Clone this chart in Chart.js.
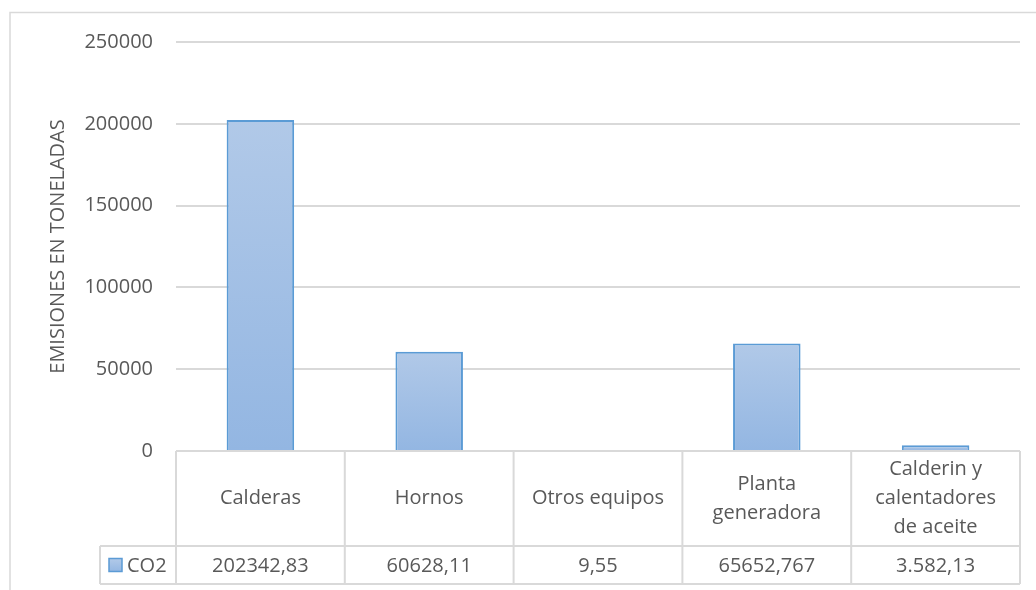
<!DOCTYPE html>
<html>
<head>
<meta charset="utf-8">
<script src="https://cdn.jsdelivr.net/npm/chart.js@4"></script>
<style>
  body { margin: 0; background: #fff; }
</style>
</head>
<body>
<canvas id="chart" width="1036" height="590"></canvas>
<script>
// datos
const categorias = ["Calderas", "Hornos", "Otros equipos", ["Planta", "generadora"], ["Calderin y", "calentadores", "de aceite"]];
const emisiones = [202342.83, 60628.11, 9.55, 65652.767, 3582.13];
const etiquetasTabla = ["202342,83", "60628,11", "9,55", "65652,767", "3.582,13"];
const serie = "CO2";
const yTicks = [0, 50000, 100000, 150000, 200000, 250000];

const gris = "#595959";
const lineaGris = "#d9d9d9";
const fuente = "'Open Sans', sans-serif";

function relleno(context) {
  const chart = context.chart;
  const y = chart.scales.y;
  if (!chart.chartArea || !y || context.raw === undefined) return "#a4c2e6";
  const top = y.getPixelForValue(context.raw);
  const base = y.getPixelForValue(0);
  if (!isFinite(top) || base - top < 1) return "#dde6ef";
  const g = chart.ctx.createLinearGradient(0, top, 0, base);
  g.addColorStop(0, "#b1c9e8");
  g.addColorStop(1, "#93b6e2");
  return g;
}

// borde exterior del grafico
const bordeGrafico = {
  id: "bordeGrafico",
  beforeDraw(chart) {
    const ctx = chart.ctx;
    ctx.save();
    ctx.strokeStyle = lineaGris;
    ctx.lineWidth = 1.5;
    ctx.strokeRect(10, 12.5, 2000, 2000);
    ctx.restore();
  },
};

// tabla de datos bajo el eje
const tablaDatos = {
  id: "tablaDatos",
  afterDraw(chart) {
    const { ctx, chartArea } = chart;
    const n = categorias.length;
    const w = (chartArea.right - chartArea.left) / n;
    const top = chartArea.bottom;
    const mid = top + 95;
    const bottom = mid + 38;
    const legendLeft = chartArea.left - 76;

    ctx.save();
    ctx.strokeStyle = lineaGris;
    ctx.lineWidth = 2;
    ctx.beginPath();
    ctx.moveTo(chartArea.left, top);
    ctx.lineTo(chartArea.right, top);
    ctx.moveTo(legendLeft, mid);
    ctx.lineTo(chartArea.right, mid);
    ctx.moveTo(legendLeft, bottom);
    ctx.lineTo(chartArea.right, bottom);
    for (let i = 0; i <= n; i++) {
      const x = chartArea.left + i * w;
      ctx.moveTo(x, top);
      ctx.lineTo(x, bottom);
    }
    ctx.moveTo(legendLeft, mid);
    ctx.lineTo(legendLeft, bottom);
    ctx.stroke();

    ctx.fillStyle = gris;
    ctx.font = "20px " + fuente;
    ctx.textAlign = "center";
    ctx.textBaseline = "middle";
    const lh = 29;
    categorias.forEach((cat, i) => {
      const lines = Array.isArray(cat) ? cat : [cat];
      const cx = chartArea.left + (i + 0.5) * w;
      const cy = (top + mid) / 2;
      lines.forEach((t, j) => {
        ctx.fillText(t, cx, cy + (j - (lines.length - 1) / 2) * lh);
      });
      ctx.fillText(etiquetasTabla[i], cx, (mid + bottom) / 2 + 1);
    });

    // leyenda
    const ly = (mid + bottom) / 2;
    const g = ctx.createLinearGradient(0, ly - 6, 0, ly + 7);
    g.addColorStop(0, "#b1c9e8");
    g.addColorStop(1, "#93b6e2");
    ctx.fillStyle = g;
    ctx.fillRect(109, ly - 6.5, 13, 13);
    ctx.strokeStyle = "#5b9bd5";
    ctx.lineWidth = 1.5;
    ctx.strokeRect(109, ly - 6.5, 13, 13);
    ctx.fillStyle = gris;
    ctx.textAlign = "left";
    ctx.fillText(serie, 127, ly + 1);
    ctx.restore();
  },
};

new Chart(document.getElementById("chart"), {
  type: "bar",
  data: {
    labels: categorias,
    datasets: [
      {
        label: serie,
        data: emisiones,
        backgroundColor: relleno,
        borderColor: "#5b9bd5",
        borderWidth: 2,
        borderSkipped: "bottom",
        categoryPercentage: 0.4,
        barPercentage: 1,
      },
    ],
  },
  options: {
    responsive: false,
    animation: false,
    layout: {
      padding: { left: 44, top: 42, right: 16, bottom: 139 },
    },
    plugins: {
      legend: { display: false },
      tooltip: { enabled: false },
    },
    scales: {
      x: {
        display: false,
      },
      y: {
        min: yTicks[0],
        max: yTicks[yTicks.length - 1],
        afterFit: (scale) => {
          scale.width = 132;
        },
        border: { display: false },
        grid: {
          color: lineaGris,
          lineWidth: 2,
          drawTicks: false,
        },
        ticks: {
          stepSize: yTicks[1] - yTicks[0],
          padding: 23,
          color: gris,
          font: { family: fuente, size: 20 },
          callback: (value) => String(value),
        },
        title: {
          display: true,
          text: "EMISIONES EN TONELADAS",
          color: gris,
          font: { family: fuente, size: 20 },
          padding: { top: 2, bottom: 0 },
        },
      },
    },
  },
  plugins: [bordeGrafico, tablaDatos],
});
</script>
</body>
</html>
